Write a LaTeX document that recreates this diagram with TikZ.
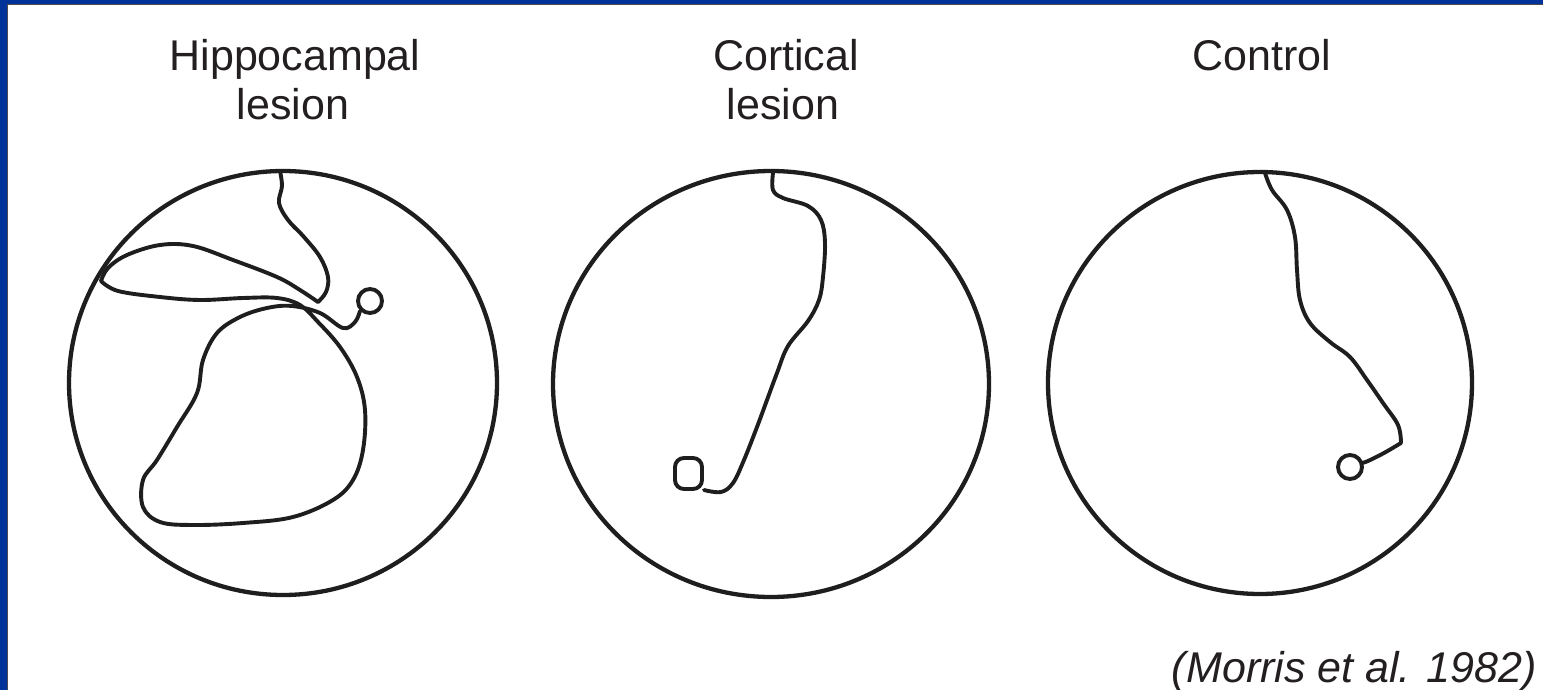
\documentclass[tikz,border=0pt]{standalone}
\usepackage{fontspec}
\setmainfont{Liberation Sans}
\definecolor{frameblue}{HTML}{003399}
\definecolor{ink}{HTML}{1E1E1E}
\definecolor{txt}{HTML}{231F20}
\begin{document}
\begin{tikzpicture}[x=1pt,y=-1pt,
  arena/.style={draw=ink,line width=4.3pt},
  swimpath/.style={draw=ink,line width=3.9pt,line join=round,line cap=round},
  goal/.style={draw=ink,line width=3.9pt},
  lbl/.style={anchor=base,text=txt,inner sep=0pt,font=\fontsize{43}{49}\selectfont},
  cite/.style={anchor=base east,text=txt,inner sep=0pt,font=\fontsize{43}{49}\selectfont\itshape}]
\useasboundingbox (0,0) rectangle (1543,690);
\fill[white] (0,0) rectangle (1543,690);
% slide frame
\fill[frameblue] (0,0) rectangle (1543,5);
\fill[frameblue] (0,0) rectangle (7,690);
\draw[black!70,line width=1pt] (7,5) -- (1543,5);
\draw[black!70,line width=1pt] (7,5) -- (7,690);
% labels
\node[lbl] (hipA) at (295,71) {Hippocampal};
\node[lbl] (hipB) at (293,120) {lesion};
\node[lbl] (corA) at (786,71) {Cortical};
\node[lbl] (corB) at (783,120) {lesion};
\node[lbl] (con) at (1262,71) {Control};
\node[cite] (ref) at (1537,682) {(Morris et al. 1982)};
% pools
\draw[arena] (283,383) ellipse [x radius=214, y radius=212];
\draw[arena] (771,384) ellipse [x radius=218, y radius=213];
\draw[arena] (1260,383) ellipse [x radius=212, y radius=211];
% hippocampal lesion path
\draw[swimpath] plot[smooth,tension=0.6] coordinates {(280,171) (282,186) (279,203) (288,220) (304,237) (320,257) (328,277) (326,292) (318,302)};
\draw[swimpath] plot[smooth,tension=0.6] coordinates {(318,302) (300,290) (277,277) (233,260) (193,246) (160,245) (127,255) (108,268) (101,281)};
\draw[swimpath] plot[smooth,tension=0.6] coordinates {(101,281) (118,291) (160,297) (200,300) (243,298) (277,298) (300,305) (318,322) (340,347) (357,377) (365,410) (363,450) (353,480) (333,500) (293,517) (243,523) (193,525) (160,522) (143,507) (143,480) (157,460) (177,427) (197,393) (203,360) (217,333) (240,317) (267,308) (292,306) (320,313) (343,328) (355,322) (360,311)};
\draw[goal] (370,301) circle [radius=12];
% cortical lesion path
\draw[swimpath] plot[smooth,tension=0.6] coordinates {(773,173) (773,190) (783,198) (808,206) (821,220) (825,243) (823,277) (819,300) (808,321) (788,346) (777,373) (767,400) (757,427) (744,460) (733,483) (721,492) (704,490)};
\draw[goal,rounded corners=9pt] (675,458) rectangle (702,489);
% control path
\draw[swimpath] plot[smooth,tension=0.6] coordinates {(1265,173) (1272,190) (1287,210) (1295,237) (1297,270) (1300,300) (1310,323) (1330,342) (1350,357) (1367,380) (1383,403) (1398,425) (1401,443)};
\draw[swimpath] plot[smooth,tension=0.6] coordinates {(1401,443) (1384,453) (1368,461) (1362,463)};
\draw[goal] (1350,467) circle [radius=12];
\end{tikzpicture}
\end{document}
